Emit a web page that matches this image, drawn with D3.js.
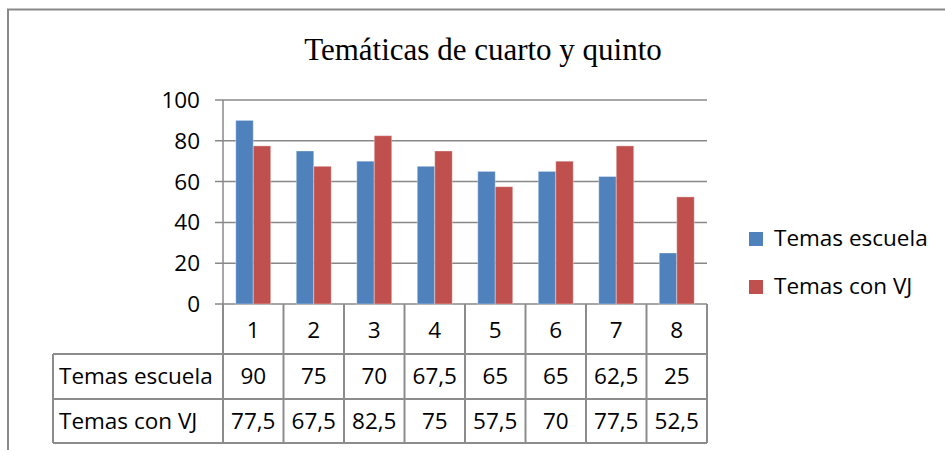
<!DOCTYPE html>
<html>
<head>
<meta charset="utf-8">
<script src="https://cdn.jsdelivr.net/npm/d3@7"></script>
<style>
  body { margin: 0; background: #fff; }
  text { font-family: "Open Sans", "Noto Sans", sans-serif; fill: #000; }
  .title { font-family: "Liberation Serif", "Times New Roman", serif; }
</style>
</head>
<body>
<div id="chart"></div>
<script>
// datos de la gráfica
var categorias = ["1", "2", "3", "4", "5", "6", "7", "8"];
var series = ["Temas escuela", "Temas con VJ"];
var temasEscuela = [90, 75, 70, 67.5, 65, 65, 62.5, 25];
var temasConVJ = [77.5, 67.5, 82.5, 75, 57.5, 70, 77.5, 52.5];
var yTicks = [0, 20, 40, 60, 80, 100];
var colores = ["#4F81BD", "#C0504D"];

var W = 945, H = 450;
var plot = {left: 223, right: 707, top: 100, bottom: 304};
var rowH = [50, 45, 44]; // filas de la tabla
var labelLeft = 53;
var fs = "22.5px";

var svg = d3.select("#chart").append("svg")
  .attr("width", W).attr("height", H);

// marco
svg.append("path")
  .attr("d", "M8,450 L8,9.5 L945,9.5")
  .attr("fill", "none").attr("stroke", "#898989").attr("stroke-width", 2);

svg.append("text")
  .attr("class", "title")
  .attr("x", 483).attr("y", 60)
  .attr("text-anchor", "middle")
  .style("font-size", "31px")
  .text("Temáticas de cuarto y quinto");

var x = d3.scaleBand().domain(categorias).range([plot.left, plot.right]);
var y = d3.scaleLinear().domain([0, 100]).range([plot.bottom, plot.top]);
var xs = d3.scaleBand().domain(series).range([0, x.bandwidth()]).paddingOuter(0.73);

// rejilla
svg.append("g").selectAll("line").data(yTicks).enter().append("line")
  .attr("x1", plot.left - 8).attr("x2", plot.right)
  .attr("y1", function (d) { return y(d); })
  .attr("y2", function (d) { return y(d); })
  .attr("stroke", "#888").attr("stroke-width", 1.5);

svg.append("line")
  .attr("x1", plot.left).attr("x2", plot.left)
  .attr("y1", plot.top).attr("y2", plot.bottom)
  .attr("stroke", "#888").attr("stroke-width", 1.5);

svg.append("g").selectAll("text").data(yTicks).enter().append("text")
  .attr("x", 200).attr("y", function (d) { return y(d) + 8; })
  .attr("text-anchor", "end")
  .style("font-size", fs)
  .text(function (d) { return d; });

// barras
var valores = [temasEscuela, temasConVJ];
series.forEach(function (s, si) {
  svg.append("g").selectAll("rect").data(valores[si]).enter().append("rect")
    .attr("x", function (d, i) { return x(categorias[i]) + xs(s); })
    .attr("width", xs.bandwidth())
    .attr("y", function (d) { return y(d); })
    .attr("height", function (d) { return y(0) - y(d); })
    .attr("fill", colores[si])
    .attr("stroke", "rgba(255,255,255,0.35)").attr("stroke-width", 1);
});

// tabla de datos
var gris = "#8c8c8c";
var r0 = plot.bottom, r1 = r0 + rowH[0], r2 = r1 + rowH[1], r3 = r2 + rowH[2];
var tabla = svg.append("g").attr("stroke", gris).attr("stroke-width", 2).attr("fill", "none");
// verticales
var cortes = categorias.map(function (c) { return x(c); }).concat([plot.right]);
cortes.forEach(function (cx) {
  tabla.append("line").attr("x1", cx).attr("x2", cx).attr("y1", r0).attr("y2", r3);
});
tabla.append("line").attr("x1", labelLeft).attr("x2", labelLeft).attr("y1", r1).attr("y2", r3);
[r1, r2, r3].forEach(function (ry) {
  tabla.append("line").attr("x1", labelLeft).attr("x2", plot.right).attr("y1", ry).attr("y2", ry);
});

svg.append("g").selectAll("text").data(categorias).enter().append("text")
  .attr("x", function (d) { return x(d) + x.bandwidth() / 2; })
  .attr("y", r0 + 34)
  .attr("text-anchor", "middle")
  .style("font-size", fs)
  .text(function (d) { return d; });

var fmt = function (v) { return String(v).replace(".", ","); };
[r1, r2].forEach(function (ry, si) {
  svg.append("text").attr("x", 59).attr("y", ry + 30)
    .style("font-size", fs).text(series[si]);
  svg.append("g").selectAll("text").data(valores[si]).enter().append("text")
    .attr("x", function (d, i) { return x(categorias[i]) + x.bandwidth() / 2; })
    .attr("y", ry + 30)
    .attr("text-anchor", "middle")
    .style("font-size", fs)
    .text(fmt);
});

// leyenda
var leyenda = svg.append("g").selectAll("g").data(series).enter().append("g")
  .attr("transform", function (d, i) { return "translate(749," + (232 + i * 48) + ")"; });
leyenda.append("rect").attr("width", 14).attr("height", 14)
  .attr("fill", function (d, i) { return colores[i]; });
leyenda.append("text").attr("x", 25).attr("y", 14)
  .style("font-size", fs).text(function (d) { return d; });
</script>
</body>
</html>
